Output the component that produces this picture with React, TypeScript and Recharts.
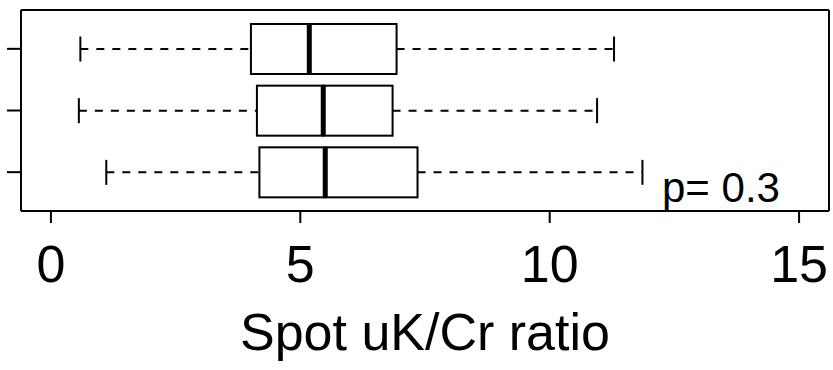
import React from "react";
import { ComposedChart, Bar, XAxis, YAxis, Label } from "recharts";

// groups listed top to bottom
const groups = ["3", "2", "1"];
const whiskerLow = [0.59, 0.56, 1.11];
const q1 = [4.01, 4.13, 4.18];
const median = [5.18, 5.46, 5.5];
const q3 = [6.93, 6.85, 7.35];
const whiskerHigh = [11.29, 10.95, 11.86];
const xTicks = [0, 5, 10, 15];
const pLabel = "p= 0.3";

const data = groups.map((g, i) => ({
  group: g,
  base: whiskerLow[i],
  lowWhisker: q1[i] - whiskerLow[i],
  lowBox: median[i] - q1[i],
  highBox: q3[i] - median[i],
  highWhisker: whiskerHigh[i] - q3[i],
}));

const FONT = "'Liberation Sans', Arial, sans-serif";

const Empty = () => <g />;

const LowWhisker = (props: any) => {
  const { x, y, width, height } = props;
  const cy = y + height / 2;
  return (
    <g>
      <line x1={x} x2={x + width} y1={cy} y2={cy} stroke="#000" strokeWidth={2} strokeDasharray="8 8" />
      <line x1={x} x2={x} y1={cy - height / 4} y2={cy + height / 4} stroke="#000" strokeWidth={2} />
    </g>
  );
};

const HighWhisker = (props: any) => {
  const { x, y, width, height } = props;
  const cy = y + height / 2;
  const end = x + width;
  return (
    <g>
      <line x1={x} x2={end} y1={cy} y2={cy} stroke="#000" strokeWidth={2} strokeDasharray="8 8" />
      <line x1={end} x2={end} y1={cy - height / 4} y2={cy + height / 4} stroke="#000" strokeWidth={2} />
    </g>
  );
};

const LowBox = (props: any) => {
  const { x, y, width, height } = props;
  return <rect x={x} y={y} width={width} height={height} fill="#fff" stroke="#000" strokeWidth={2} />;
};

const HighBox = (props: any) => {
  const { x, y, width, height } = props;
  return (
    <g>
      <rect x={x} y={y} width={width} height={height} fill="#fff" stroke="#000" strokeWidth={2} />
      <line x1={x} x2={x} y1={y} y2={y + height} stroke="#000" strokeWidth={5} />
    </g>
  );
};

export default function App() {
  return (
    <div style={{ position: "absolute", left: 0, top: 0, width: 833, height: 370, background: "#fff" }}>
      <ComposedChart
        width={833}
        height={370}
        data={data}
        layout="vertical"
        margin={{ top: 9, right: 0, bottom: 0, left: 0 }}
      >
        <XAxis
          type="number"
          domain={[-0.6, 15.6]}
          ticks={xTicks}
          interval={0}
          allowDataOverflow
          height={159}
          tickSize={12}
          tickMargin={22}
          axisLine={{ stroke: "#000", strokeWidth: 2 }}
          tickLine={{ stroke: "#000", strokeWidth: 2 }}
          tick={{ fontSize: 52, fill: "#000", fontFamily: FONT }}
        >
          <Label
            value="Spot uK/Cr ratio"
            position="insideBottom"
            offset={20}
            style={{ fontSize: 52, fill: "#000", fontFamily: FONT }}
          />
        </XAxis>
        <XAxis
          xAxisId="top"
          orientation="top"
          type="number"
          domain={[-0.6, 15.6]}
          allowDataOverflow
          height={1}
          tick={false}
          tickLine={false}
          axisLine={{ stroke: "#000", strokeWidth: 2 }}
        />
        <YAxis
          type="category"
          dataKey="group"
          width={21}
          padding={{ top: 8, bottom: 8 }}
          tickSize={14}
          tick={<Empty />}
          tickLine={{ stroke: "#000", strokeWidth: 2 }}
          axisLine={{ stroke: "#000", strokeWidth: 2 }}
        />
        <YAxis
          yAxisId="right"
          orientation="right"
          type="category"
          dataKey="group"
          width={4}
          padding={{ top: 8, bottom: 8 }}
          tick={false}
          tickLine={false}
          axisLine={{ stroke: "#000", strokeWidth: 2 }}
        />
        <Bar dataKey="base" stackId="box" barSize={50} shape={<Empty />} isAnimationActive={false} />
        <Bar dataKey="lowWhisker" stackId="box" barSize={50} shape={<LowWhisker />} isAnimationActive={false} />
        <Bar dataKey="lowBox" stackId="box" barSize={50} shape={<LowBox />} isAnimationActive={false} />
        <Bar dataKey="highBox" stackId="box" barSize={50} shape={<HighBox />} isAnimationActive={false} />
        <Bar dataKey="highWhisker" stackId="box" barSize={50} shape={<HighWhisker />} isAnimationActive={false} />
      </ComposedChart>
      <div
        style={{
          position: "absolute",
          left: 662,
          top: 167,
          fontSize: 42,
          lineHeight: 1,
          fontFamily: FONT,
          color: "#000",
          whiteSpace: "nowrap",
        }}
      >
        {pLabel}
      </div>
    </div>
  );
}
